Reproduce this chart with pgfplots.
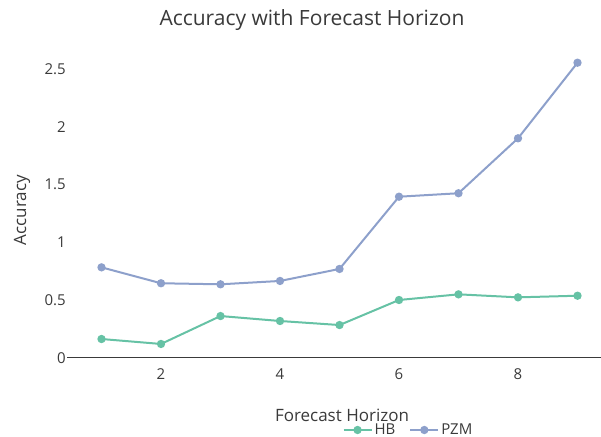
\documentclass[border=0pt]{standalone}
\usepackage{fontspec}
\setmainfont{Open Sans}
\usepackage{pgfplots}
\pgfplotsset{compat=1.18}
\definecolor{hb}{HTML}{66C2A5}
\definecolor{pzm}{HTML}{8DA0CB}
\definecolor{txt}{HTML}{3A3A3A}
\begin{document}
\begin{tikzpicture}[x=1pt,y=1pt]
\useasboundingbox (0,0) rectangle (601,436);
\begin{axis}[
  at={(67pt,78.3pt)}, anchor=south west,
  scale only axis, width=534pt, height=311.6pt,
  xmin=0.42, xmax=9.395, ymin=0, ymax=2.7,
  axis x line=bottom, axis y line=left,
  x axis line style={-, draw=txt, line width=1pt},
  y axis line style={draw=none},
  xtick={2,4,6,8}, ytick={0,0.5,1,1.5,2,2.5},
  yticklabels={0,0.5,1,1.5,2,2.5},
  major tick length=0pt,
  ticklabel style={font=\fontsize{15}{17}\selectfont, text=txt},
  /pgf/number format/assume math mode=true,
  xticklabel style={anchor=north, inner sep=0pt, yshift=-11pt},
  yticklabel style={anchor=east, inner sep=0pt, xshift=-1pt},
  legend columns=2,
  legend style={at={(0.51,-0.232)}, anchor=west, draw=none, fill=none,
    font=\fontsize{15}{17}\selectfont, text=txt,
    /tikz/every even column/.append style={column sep=12pt}},
  legend image code/.code={\draw[#1] (0pt,0pt) -- (28pt,0pt); \draw[#1, only marks] plot coordinates {(14pt,0pt)};},
]
\addplot[color=hb, line width=2pt, mark=*, mark size=3.1pt] coordinates {
(1,0.162) (2,0.119) (3,0.361) (4,0.318) (5,0.283) (6,0.500) (7,0.549) (8,0.523) (9,0.537)};
\addlegendentry{HB}
\addplot[color=pzm, line width=2pt, mark=*, mark size=3.1pt] coordinates {
(1,0.783) (2,0.645) (3,0.636) (4,0.665) (5,0.769) (6,1.395) (7,1.425) (8,1.901) (9,2.556)};
\addlegendentry{PZM}
\end{axis}
\node[text=txt, font=\fontsize{21}{24}\selectfont] at (312,416) {Accuracy with Forecast Horizon};
\node[text=txt, font=\fontsize{17}{19}\selectfont, rotate=90] at (22,226) {Accuracy};
\node[text=txt, font=\fontsize{17}{19}\selectfont] at (342,21) {Forecast Horizon};
\end{tikzpicture}
\end{document}
